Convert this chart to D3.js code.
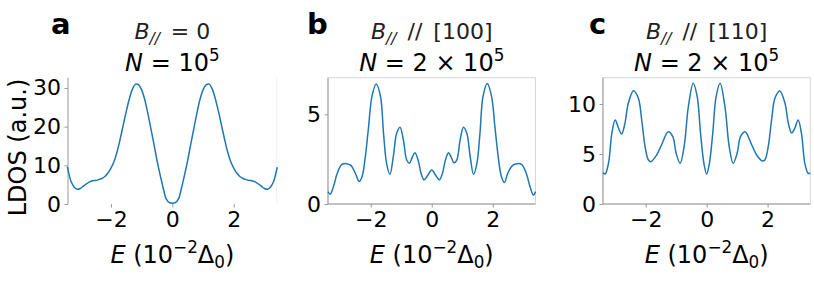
<!DOCTYPE html>
<html>
<head>
<meta charset="utf-8">
<script src="https://cdn.jsdelivr.net/npm/d3@7"></script>
<style>
  body { margin: 0; background: #fff; }
  svg { display: block; font-family: "DejaVu Sans", sans-serif; }
</style>
</head>
<body>
<div id="chart"></div>
<script>
// values
const energyA = [-3.42, -3.35, -3.3, -3.2, -3.1, -3.0, -2.9, -2.8, -2.7, -2.6, -2.5, -2.4, -2.3, -2.2, -2.1, -2.0, -1.9, -1.8, -1.7, -1.6, -1.5, -1.4, -1.3, -1.2, -1.1, -1.0, -0.9, -0.8, -0.7, -0.6, -0.5, -0.4, -0.3, -0.2, -0.1, 0,
  0.1, 0.2, 0.3, 0.4, 0.5, 0.6, 0.7, 0.8, 0.9, 1.0, 1.1, 1.2, 1.3, 1.4, 1.5, 1.6, 1.7, 1.8, 1.9, 2.0, 2.1, 2.2, 2.3, 2.4, 2.5, 2.6, 2.7, 2.8, 2.9, 3.0, 3.1, 3.2, 3.3, 3.35, 3.42];
const ldosA = [9.6, 7.2, 5.8, 4.4, 3.8, 4.0, 4.6, 5.2, 5.7, 6.0, 6.1, 6.3, 6.6, 7.1, 8.0, 9.3, 11.0, 13.5, 16.8, 20.4, 24.0, 27.2, 29.7, 31.0, 30.8, 29.5, 27.0, 23.5, 19.5, 15.5, 11.3, 7.6, 4.2, 1.3, 0.35, 0.2,
  0.35, 1.3, 4.2, 7.6, 11.3, 15.5, 19.5, 23.5, 27.0, 29.5, 30.8, 31.0, 29.7, 27.2, 24.0, 20.4, 16.8, 13.5, 11.0, 9.3, 8.0, 7.1, 6.6, 6.3, 6.1, 6.0, 5.7, 5.2, 4.6, 4.0, 3.8, 4.4, 5.8, 7.2, 9.5];

const energyB = [-3.4, -3.33, -3.22, -3.1, -2.95, -2.8, -2.65, -2.5, -2.38, -2.28, -2.18, -2.07, -1.96, -1.82, -1.68, -1.58, -1.48, -1.37, -1.26, -1.15, -1.04, -0.93, -0.82, -0.73, -0.64, -0.55, -0.44, -0.35, -0.25, -0.13, 0,
  0.13, 0.25, 0.35, 0.44, 0.55, 0.64, 0.73, 0.82, 0.93, 1.04, 1.15, 1.26, 1.37, 1.48, 1.58, 1.68, 1.82, 1.96, 2.07, 2.18, 2.28, 2.38, 2.5, 2.65, 2.8, 2.95, 3.1, 3.22, 3.33, 3.4];
const ldosB = [0.69, 0.54, 0.97, 1.7, 2.2, 2.25, 2.15, 1.7, 1.25, 1.55, 2.6, 4.3, 6.0, 6.69, 6.0, 3.94, 2.27, 1.65, 2.64, 3.94, 4.28, 3.57, 2.45, 2.27, 2.6, 2.86, 2.4, 1.7, 1.34, 1.6, 1.9,
  1.6, 1.34, 1.7, 2.4, 2.86, 2.6, 2.3, 2.45, 3.57, 4.28, 3.94, 2.64, 1.65, 2.27, 3.94, 6.0, 6.72, 6.0, 4.3, 2.6, 1.55, 1.2, 1.75, 2.15, 2.25, 2.2, 1.7, 0.97, 0.5, 0.69];

const energyC = [-3.4, -3.33, -3.22, -3.11, -3.0, -2.89, -2.79, -2.68, -2.57, -2.4, -2.24, -2.13, -2.02, -1.91, -1.83, -1.64, -1.48, -1.26, -1.11, -1.0, -0.87, -0.74, -0.6, -0.44, -0.31, -0.2, -0.09, 0,
  0.09, 0.2, 0.31, 0.44, 0.6, 0.74, 0.87, 1.0, 1.11, 1.26, 1.48, 1.64, 1.83, 1.91, 2.02, 2.13, 2.24, 2.4, 2.57, 2.68, 2.79, 2.89, 3.0, 3.11, 3.22, 3.33, 3.4];
const ldosC = [3.13, 3.0, 4.07, 7.07, 8.4, 7.57, 7.0, 8.07, 10.07, 11.33, 10.57, 8.4, 5.73, 4.4, 4.23, 4.9, 5.9, 7.23, 6.73, 5.07, 4.07, 5.73, 9.73, 12.07, 10.73, 7.07, 4.07, 3.0,
  4.07, 7.07, 10.73, 12.07, 9.73, 5.73, 4.07, 5.07, 6.73, 7.23, 5.9, 4.9, 4.3, 4.4, 5.73, 8.4, 10.57, 11.3, 10.07, 8.07, 7.1, 7.57, 8.4, 7.07, 4.07, 3.07, 3.1];

const xTicks = [-2, 0, 2];
const yTicksA = [0, 10, 20, 30];
const yTicksB = [0, 5];
const yTicksC = [0, 5, 10];

const W = 814, H = 282;
const plotTop = 77.7, plotBottom = 204;
const blue = '#1f77b4';

const svg = d3.select('#chart').append('svg')
  .attr('width', W)
  .attr('height', H);

// small helper for mathtext-ish labels (italic, sub, sup)
function rich(t, parts, size) {
  let shift = 0;
  parts.forEach(p => {
    const s = p.s === 'sup' ? -0.4 * size : p.s === 'sub' ? 0.22 * size : 0;
    t.append('tspan')
      .attr('dy', s - shift)
      .attr('font-size', p.s ? size * 0.7 : size)
      .attr('font-style', p.i ? 'italic' : 'normal')
      .text(p.t);
    shift = s;
  });
}

const minus = d => d < 0 ? '\u2212' + Math.abs(d) : String(d);

function panel(opt) {
  const x = d3.scaleLinear().domain([-3.4, 3.4]).range([opt.left, opt.right]);
  const y = d3.scaleLinear().domain([0, opt.ymax]).range([plotBottom, plotTop]);
  const g = svg.append('g');

  // frame
  if (opt.full) {
    g.append('rect')
      .attr('x', opt.left).attr('y', plotTop)
      .attr('width', opt.right - opt.left).attr('height', plotBottom - plotTop)
      .attr('fill', 'none').attr('stroke', '#d6d6d6').attr('stroke-width', 1);
    g.append('line')
      .attr('x1', opt.left).attr('x2', opt.right).attr('y1', plotBottom).attr('y2', plotBottom)
      .attr('stroke', '#999');
  } else {
    g.append('line')
      .attr('x1', opt.right).attr('x2', opt.right).attr('y1', plotTop).attr('y2', plotBottom)
      .attr('stroke', '#f0f0f0');
  }
  g.append('line')
    .attr('x1', opt.left).attr('x2', opt.left).attr('y1', plotTop).attr('y2', plotBottom)
    .attr('stroke', '#999');

  // axes
  const xa = g.append('g')
    .attr('transform', `translate(0,${plotBottom})`)
    .call(d3.axisBottom(x).tickValues(xTicks).tickSize(3.5).tickPadding(4).tickFormat(minus));
  const ya = g.append('g')
    .attr('transform', `translate(${opt.left},0)`)
    .call(d3.axisLeft(y).tickValues(opt.yticks).tickSize(3.5).tickPadding(3.5).tickFormat(minus));
  [xa, ya].forEach(a => {
    a.select('.domain').remove();
    a.selectAll('.tick line').attr('stroke', '#999');
    a.selectAll('.tick text').attr('font-size', 22).attr('fill', '#000')
      .attr('font-family', '"DejaVu Sans", sans-serif');
  });

  // curve
  g.append('path')
    .datum(opt.e.map((d, i) => [d, opt.l[i]]))
    .attr('fill', 'none')
    .attr('stroke', blue)
    .attr('stroke-width', 1.5)
    .attr('d', d3.line()
      .x(d => x(d[0]))
      .y(d => y(d[1]))
      .curve(d3.curveCatmullRom.alpha(0.5)));

  const cx = (opt.left + opt.right) / 2;

  // titles
  rich(g.append('text').attr('x', cx).attr('y', 39).attr('text-anchor', 'middle').attr('fill', '#222'), opt.t1, 22);
  rich(g.append('text').attr('x', cx).attr('y', 71).attr('text-anchor', 'middle').attr('fill', '#000'), opt.t2, 24);

  // x label
  rich(g.append('text').attr('x', cx).attr('y', 263).attr('text-anchor', 'middle'), [
    { t: 'E', i: true }, { t: ' (10' }, { t: '\u22122', s: 'sup' }, { t: '\u0394' }, { t: '0', s: 'sub' }, { t: ')' }
  ], 24);

  // panel letter
  g.append('text')
    .attr('x', opt.lx).attr('y', 34)
    .attr('font-size', 29).attr('font-weight', 'bold')
    .text(opt.letter);
}

panel({
  left: 68, right: 276.7, ymax: 32.65, yticks: yTicksA, e: energyA, l: ldosA, full: false,
  letter: 'a', lx: 51,
  t1: [{ t: 'B', i: true }, { t: '//', i: true, s: 'sub' }, { t: '\u2002= 0' }],
  t2: [{ t: 'N', i: true }, { t: ' = 10' }, { t: '5', s: 'sup' }]
});
panel({
  left: 328, right: 535.5, ymax: 7.04, yticks: yTicksB, e: energyB, l: ldosB, full: true,
  letter: 'b', lx: 307,
  t1: [{ t: 'B', i: true }, { t: '//', i: true, s: 'sub' }, { t: '\u2002//\u2002[100]' }],
  t2: [{ t: 'N', i: true }, { t: ' = 2 \u00d7 10' }, { t: '5', s: 'sup' }]
});
panel({
  left: 603, right: 810.3, ymax: 12.63, yticks: yTicksC, e: energyC, l: ldosC, full: true,
  letter: 'c', lx: 589,
  t1: [{ t: 'B', i: true }, { t: '//', i: true, s: 'sub' }, { t: '\u2002//\u2002[110]' }],
  t2: [{ t: 'N', i: true }, { t: ' = 2 \u00d7 10' }, { t: '5', s: 'sup' }]
});

// y label
svg.append('text')
  .attr('transform', 'translate(26,147.5) rotate(-90)')
  .attr('text-anchor', 'middle')
  .attr('font-size', 24)
  .text('LDOS (a.u.)');
</script>
</body>
</html>
